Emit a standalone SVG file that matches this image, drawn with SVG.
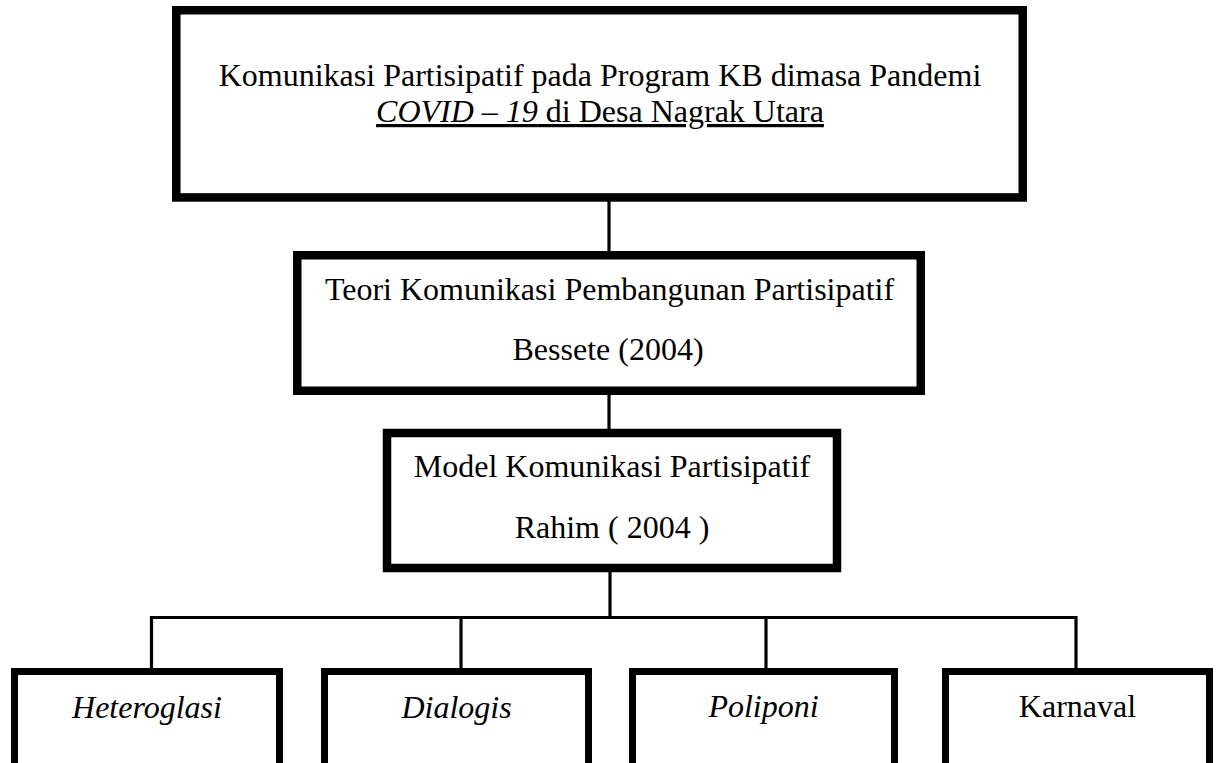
<svg xmlns="http://www.w3.org/2000/svg" width="1218" height="763" viewBox="0 0 1218 763">
<style>
.box{fill:#fff;stroke:#000}
.big{stroke-width:8.5}
.small{stroke-width:7}
.t{font-family:"Liberation Serif","Times New Roman",serif;font-size:32px;fill:#000;text-anchor:middle}
.i{font-style:italic}
.c{stroke:#000;stroke-width:3.2;fill:none}
</style>
<rect width="1218" height="763" fill="#fff"/>
<g id="connectors">
<line class="c" x1="609" y1="200" x2="609" y2="252"/>
<line class="c" x1="609" y1="394" x2="609" y2="430"/>
<line class="c" x1="610" y1="571" x2="610" y2="617.5"/>
<polyline class="c" points="151.5,668 151.5,617.5 1076,617.5 1076,668"/>
<line class="c" x1="461" y1="617.5" x2="461" y2="668"/>
<line class="c" x1="766" y1="617.5" x2="766" y2="668"/>
</g>
<g id="node-top">
<rect class="box big" x="176.25" y="10.25" width="846.5" height="187.2"/>
<text class="t" x="600" y="86">Komunikasi Partisipatif pada Program KB dimasa Pandemi</text>
<text class="t" x="600" y="122" text-decoration="underline"><tspan class="i">COVID – 19</tspan> di Desa Nagrak Utara</text>
</g>
<g id="node-teori">
<rect class="box big" x="297.25" y="255.25" width="623.5" height="135.5"/>
<text class="t" x="609.5" y="300">Teori Komunikasi Pembangunan Partisipatif</text>
<text class="t" x="608" y="360">Bessete (2004)</text>
</g>
<g id="node-model">
<rect class="box big" x="387" y="433" width="450" height="135"/>
<text class="t" x="612" y="477">Model Komunikasi Partisipatif</text>
<text class="t" x="612" y="538">Rahim ( 2004 )</text>
</g>
<g id="node-heteroglasi">
<rect class="box small" x="14.5" y="671.5" width="265" height="110"/>
<text class="t i" x="147" y="718">Heteroglasi</text>
</g>
<g id="node-dialogis">
<rect class="box small" x="324.5" y="671.5" width="264" height="110"/>
<text class="t i" x="456.5" y="718">Dialogis</text>
</g>
<g id="node-poliponi">
<rect class="box small" x="632.5" y="671.5" width="262" height="110"/>
<text class="t i" x="763.5" y="717">Poliponi</text>
</g>
<g id="node-karnaval">
<rect class="box small" x="945.5" y="671.5" width="264" height="110"/>
<text class="t" x="1077.5" y="717">Karnaval</text>
</g>
</svg>
